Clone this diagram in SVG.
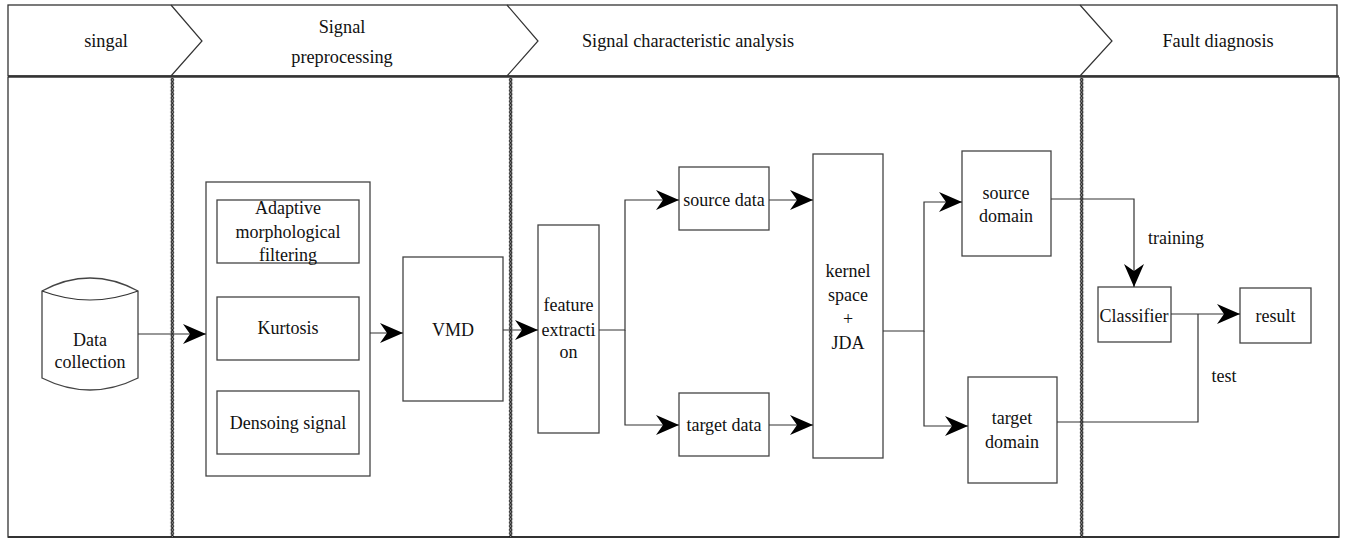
<svg xmlns="http://www.w3.org/2000/svg" width="1346" height="539" viewBox="0 0 1346 539" font-family="'Liberation Serif', 'DejaVu Serif', serif">
  <style>
    .t { font-family: 'Liberation Serif', 'DejaVu Serif', serif; font-size: 18px; fill: #111; text-anchor: middle; }
    .h { font-size: 18.3px; }
    .box { fill: #fff; stroke: #444; stroke-width: 1.3; }
    .edge { fill: none; stroke: #333; stroke-width: 1.2; }
    .frame { fill: none; stroke: #333; stroke-width: 1.3; }
  </style>
  <defs>
    <marker id="arrow" markerUnits="userSpaceOnUse" markerWidth="24" markerHeight="22" viewBox="-23 -11 24 22" refX="0" refY="0" orient="auto">
      <path d="M-23,-10 L0,0 L-23,10 L-16,0 Z" fill="#000"/>
    </marker>
    <!-- chain of small rings used for the lane separators -->
    <pattern id="chain" patternUnits="userSpaceOnUse" x="0" y="0" width="5" height="3.6">
      <ellipse cx="2.5" cy="1.8" rx="1.3" ry="1.25" fill="#fff" stroke="#000" stroke-width="1"/>
    </pattern>
  </defs>

  <rect width="1346" height="539" fill="#fff"/>

  <!-- header band and lane chevrons -->
  <g id="header">
    <rect x="8" y="5" width="1329" height="71" class="frame"/>
    <path d="M171,5 L202,41 L171,76" class="edge"/>
    <path d="M507,5 L538,41 L507,76" class="edge"/>
    <path d="M1080,5 L1112,41 L1080,76" class="edge"/>
    <text class="t h" x="106" y="47">singal</text>
    <text class="t h" x="342" y="33">Signal</text>
    <text class="t h" x="342" y="63">preprocessing</text>
    <text class="t h" x="688" y="47">Signal characteristic analysis</text>
    <text class="t h" x="1218" y="47">Fault diagnosis</text>
  </g>

  <!-- body frame -->
  <g id="body">
    <path d="M8,77 L8,537 L1339,537 L1339,77" class="frame"/>
    <line x1="8" y1="76.5" x2="1339" y2="76.5" stroke="#333" stroke-width="2.4"/>
    <line x1="8" y1="537" x2="1339" y2="537" stroke="#333" stroke-width="2"/>
  </g>

  <!-- lane separators -->
  <g id="separators">
    <g transform="translate(169.8,78)"><rect x="0" y="0" width="5" height="459" fill="url(#chain)"/></g>
    <g transform="translate(508.2,78)"><rect x="0" y="0" width="5" height="459" fill="url(#chain)"/></g>
    <g transform="translate(1079.2,78)"><rect x="0" y="0" width="5" height="459" fill="url(#chain)"/></g>
  </g>

  <g id="data-collection">
    <path d="M42,291 Q90,265 138,291 L138,378 Q90,402 42,378 Z" class="box"/>
    <path d="M42,291 Q90,309 138,291" class="edge"/>
    <text class="t" x="90" y="346">Data</text>
    <text class="t" x="90" y="368">collection</text>
  </g>

  <g id="preprocessing">
    <rect x="206" y="182" width="164" height="294" class="box"/>
  </g>
  <g id="adaptive-filtering">
    <rect x="217" y="200" width="142" height="63" class="box"/>
    <text class="t" x="288" y="214">Adaptive</text>
    <text class="t" x="288" y="238">morphological</text>
    <text class="t" x="288" y="261">filtering</text>
  </g>
  <g id="kurtosis">
    <rect x="217" y="297" width="142" height="63" class="box"/>
    <text class="t" x="288" y="334">Kurtosis</text>
  </g>
  <g id="denoising">
    <rect x="217" y="391" width="142" height="63" class="box"/>
    <text class="t" x="288" y="429">Densoing signal</text>
  </g>

  <g id="vmd">
    <rect x="403" y="257" width="100" height="144" class="box"/>
    <text class="t" x="453" y="336">VMD</text>
  </g>

  <g id="feature-extraction">
    <rect x="538" y="225" width="61" height="208" class="box"/>
    <text class="t" x="568.5" y="311">feature</text>
    <text class="t" x="568.5" y="336">extracti</text>
    <text class="t" x="568.5" y="358">on</text>
  </g>

  <g id="source-data">
    <rect x="679" y="167" width="90" height="63" class="box"/>
    <text class="t" x="724" y="206">source data</text>
  </g>
  <g id="target-data">
    <rect x="679" y="393" width="90" height="63" class="box"/>
    <text class="t" x="724" y="431">target data</text>
  </g>

  <g id="kernel-jda">
    <rect x="813" y="154" width="70" height="304" class="box"/>
    <text class="t" x="848" y="277">kernel</text>
    <text class="t" x="848" y="301">space</text>
    <text class="t" x="848" y="325">+</text>
    <text class="t" x="848" y="349">JDA</text>
  </g>

  <g id="source-domain">
    <rect x="962" y="151" width="89" height="105" class="box"/>
    <text class="t" x="1006" y="199">source</text>
    <text class="t" x="1006" y="222">domain</text>
  </g>
  <g id="target-domain">
    <rect x="968" y="377" width="89" height="106" class="box"/>
    <text class="t" x="1012" y="424">target</text>
    <text class="t" x="1012" y="448">domain</text>
  </g>

  <g id="classifier">
    <rect x="1098" y="287" width="73" height="55" class="box"/>
    <text class="t" x="1134" y="322">Classifier</text>
  </g>
  <g id="result">
    <rect x="1240" y="288" width="71" height="55" class="box"/>
    <text class="t" x="1275.5" y="322">result</text>
  </g>

  <!-- connectors -->
  <g id="connectors">
    <path d="M138,334 L206,334" class="edge" marker-end="url(#arrow)"/>
    <path d="M370,333 L403,333" class="edge" marker-end="url(#arrow)"/>
    <path d="M503,330 L538,330" class="edge" marker-end="url(#arrow)"/>
    <path d="M599,330 L625,330 L625,200 L679,200" class="edge" marker-end="url(#arrow)"/>
    <path d="M625,330 L625,425 L679,425" class="edge" marker-end="url(#arrow)"/>
    <path d="M769,200 L813,200" class="edge" marker-end="url(#arrow)"/>
    <path d="M769,425 L813,425" class="edge" marker-end="url(#arrow)"/>
    <path d="M883,331 L924,331 L924,202 L962,202" class="edge" marker-end="url(#arrow)"/>
    <path d="M924,331 L924,426 L968,426" class="edge" marker-end="url(#arrow)"/>
    <path d="M1051,199 L1134,199 L1134,287" class="edge" marker-end="url(#arrow)"/>
    <path d="M1171,314 L1240,314" class="edge" marker-end="url(#arrow)"/>
    <path d="M1057,422 L1198,422 L1198,314" class="edge"/>
    <text class="t" x="1176" y="244">training</text>
    <text class="t" x="1224" y="382">test</text>
  </g>
</svg>
